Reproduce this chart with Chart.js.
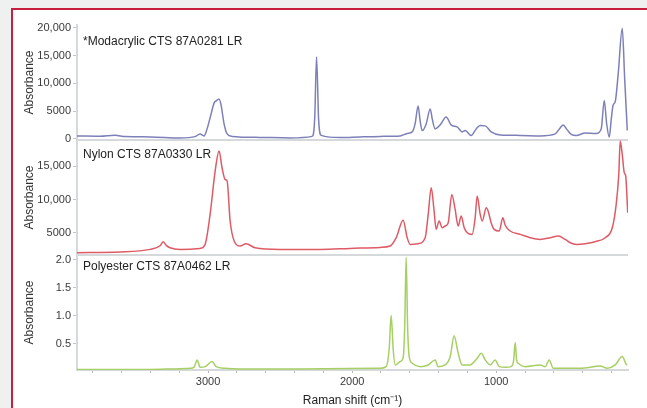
<!DOCTYPE html>
<html>
<head>
<meta charset="utf-8">
<script src="https://cdn.jsdelivr.net/npm/chart.js@4"></script>
<style>
  html, body { margin:0; padding:0; background:#eff0f0; width:647px; height:408px; overflow:hidden; }
  #frame { position:absolute; left:11px; top:8px; width:660px; height:420px; border:2px solid #c8203c; background:#fff; }
  #wrap { position:absolute; left:0; top:0; width:647px; height:408px; }
</style>
</head>
<body>
<div id="frame"></div>
<div id="wrap"><canvas id="spectra"></canvas></div>
<script>
// Raman shift (cm-1) / absorbance
const modWave = [3910,3750,3646,3576,3403,3194,3090,3056,3028,3007,2979,2958,2944,2924,2910,2889,2868,2833,2639,2431,2278,2260,2247,2233,2215,2083,1944,1806,1667,1618,1583,1563,1542,1528,1514,1486,1458,1444,1424,1389,1347,1313,1271,1236,1215,1174,1139,1111,1076,1035,972,833,694,590,556,535,507,479,444,382,306,271,250,233,215,201,188,174,153,125,108,90];
const modAbs  = [540,490,670,410,360,180,410,900,540,1800,4500,6480,6840,7200,6120,2700,900,450,270,180,450,3600,14760,3600,630,230,360,450,540,990,1260,2700,5940,3240,1500,2700,5400,3600,1800,2520,3960,2520,2160,1260,1500,600,1800,2400,2340,1260,720,630,540,900,1980,2520,1620,810,600,1080,990,1800,6900,2700,300,3600,6120,6660,11700,19900,10800,1500];

const nylWave = [3910,3611,3403,3333,3312,3292,3264,3194,3056,3021,2986,2951,2924,2903,2882,2868,2847,2819,2778,2736,2674,2500,2222,2014,1806,1736,1694,1646,1618,1597,1542,1493,1472,1451,1431,1417,1396,1375,1354,1333,1308,1285,1264,1243,1222,1201,1167,1146,1132,1111,1097,1069,1056,1035,1014,979,954,938,903,833,764,694,625,569,521,486,444,382,313,243,194,167,149,139,125,111,101,87];
const nylAbs  = [1950,2050,2450,3000,3610,3100,2700,2450,2600,3200,7740,14300,17340,14800,13040,12800,6740,3720,2960,3310,2700,2450,2450,2600,2750,2960,4220,6840,4220,3200,3310,4220,7740,11790,8260,5480,6740,5730,5990,6490,10770,8500,5990,7500,5730,4970,4720,7240,10530,7740,6740,8760,8260,6490,5480,5230,7240,6140,5230,4720,4220,3960,4220,4470,3960,3460,3200,3310,3610,4220,5730,9260,13800,18860,16830,14060,13560,8000];

const polWave = [3910,3403,3229,3125,3097,3076,3056,3021,2972,2944,2882,2778,2361,1806,1764,1743,1729,1715,1701,1667,1646,1635,1625,1615,1604,1583,1528,1472,1424,1403,1354,1319,1292,1264,1236,1181,1132,1104,1076,1042,1007,979,938,896,879,868,858,847,799,694,660,632,604,417,278,229,174,125,97,90];
const polAbs  = [0.04,0.04,0.05,0.06,0.08,0.21,0.08,0.09,0.18,0.09,0.06,0.05,0.05,0.06,0.09,0.4,1.0,0.4,0.12,0.18,0.25,0.8,2.04,0.8,0.27,0.15,0.09,0.12,0.21,0.09,0.12,0.27,0.64,0.33,0.12,0.12,0.24,0.33,0.21,0.12,0.21,0.09,0.08,0.09,0.2,0.52,0.2,0.15,0.09,0.12,0.09,0.21,0.06,0.06,0.1,0.06,0.12,0.27,0.13,0.12];

const names = ['*Modacrylic CTS 87A0281 LR', 'Nylon CTS 87A0330 LR', 'Polyester CTS 87A0462 LR'];
const modTicks = [0, 5000, 10000, 15000, 20000];
const nylTicks = [5000, 10000, 15000];
const polTicks = [0.5, 1.0, 1.5, 2.0];
const xLabels = [3000, 2000, 1000];
const xMinor = [3800,3600,3400,3200,2800,2600,2400,2200,1800,1600,1400,1200,800,600,400,200];

const FONT = "'Liberation Sans', Arial, sans-serif";
Chart.defaults.font.family = FONT;
Chart.defaults.color = '#333';

const pts = (xs, ys) => xs.map((x, i) => ({x, y: ys[i]}));
const thousands = v => v >= 10000 ? v.toLocaleString('en-US') : String(v);

function yAxis(tickVals, min, max, fmt){
  return {
    type: 'linear', position: 'left', stack: 'panels', stackWeight: 1, min, max,
    afterBuildTicks: s => { s.ticks = tickVals.map(v => ({value: v})); },
    afterFit: s => { s.width = 65; },
    title: {display: true, text: 'Absorbance', font: {size: 12}, color: '#333', padding: {top: 10, bottom: 0}},
    border: {color: '#d6d9dc', width: 2},
    grid: {drawOnChartArea: false, tickLength: 4, color: '#c4c4c4'},
    ticks: {autoSkip: false, font: {size: 11}, color: '#3a3a3a', padding: 2, callback: fmt}
  };
}

const panelLines = {
  id: 'panelLines',
  beforeDatasetsDraw(chart){
    const {ctx, chartArea} = chart;
    ctx.save();
    ctx.strokeStyle = '#d6d9dc'; ctx.lineWidth = 2;
    ['y1', 'y2'].forEach(id => {
      const b = chart.scales[id].bottom;
      ctx.beginPath(); ctx.moveTo(chartArea.left, b); ctx.lineTo(chartArea.right, b); ctx.stroke();
    });
    ctx.restore();
  }
};

const panelNames = {
  id: 'panelNames',
  afterDatasetsDraw(chart){
    const {ctx, chartArea} = chart;
    const drop = [17, 15, 12];
    ctx.save();
    ctx.font = '12px ' + FONT; ctx.fillStyle = '#222'; ctx.textBaseline = 'middle';
    ['y1', 'y2', 'y3'].forEach((id, i) => {
      ctx.fillText(names[i], chartArea.left + 6, chart.scales[id].top + drop[i]);
    });
    ctx.restore();
  }
};

const line = (data, color, axis) => ({
  data, yAxisID: axis, borderColor: color, borderWidth: 1.5,
  pointRadius: 0, cubicInterpolationMode: 'monotone', fill: false
});

new Chart(document.getElementById('spectra'), {
  type: 'line',
  data: {datasets: [
    line(pts(modWave, modAbs), '#7d80b8', 'y1'),
    line(pts(nylWave, nylAbs), '#de5b66', 'y2'),
    line(pts(polWave, polAbs), '#a6cf64', 'y3')
  ]},
  options: {
    responsive: true, maintainAspectRatio: false, animation: false,
    layout: {padding: {left: 12, right: 19, top: 25, bottom: 0}},
    plugins: {legend: {display: false}, tooltip: {enabled: false}},
    scales: {
      x: {
        type: 'linear', reverse: true, min: 85, max: 3910,
        afterBuildTicks: s => { s.ticks = xLabels.concat(xMinor).sort((a, b) => b - a).map(v => ({value: v})); },
        afterFit: s => { s.height = 38; },
        border: {color: '#d6d9dc', width: 2},
        grid: {drawOnChartArea: false, tickLength: 3, color: '#b8b8b8'},
        ticks: {autoSkip: false, maxRotation: 0, font: {size: 11}, color: '#3a3a3a', padding: 2,
                callback: v => xLabels.includes(v) ? String(v) : ''},
        title: {display: true, text: 'Raman shift (cm\u207B\u00B9)', font: {size: 12}, color: '#222', padding: {top: 8, bottom: 0}}
      },
      // stacked axes are placed bottom-up in definition order
      y3: yAxis(polTicks, 0.03, 2.08, v => v.toFixed(1)),
      y2: yAxis(nylTicks, 1600, 19000, thousands),
      y1: yAxis(modTicks, -200, 20500, thousands)
    }
  },
  plugins: [panelLines, panelNames]
});
</script>
</body>
</html>
